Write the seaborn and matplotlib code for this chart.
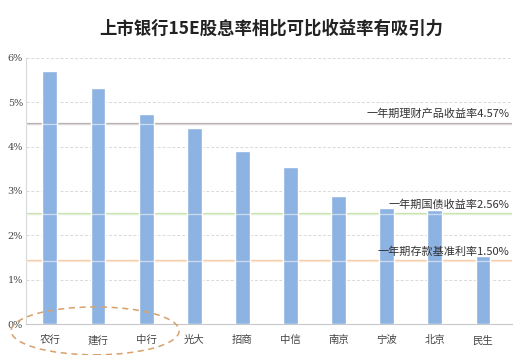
import numpy as np
import matplotlib.pyplot as plt
import pandas as pd
import seaborn as sns
from matplotlib.patches import Ellipse
from matplotlib.transforms import blended_transform_factory

# --- data ---
banks = ["农行", "建行", "中行", "光大", "招商", "中信", "南京", "宁波", "北京", "民生"]
div_yield = [5.71, 5.33, 4.74, 4.41, 3.89, 3.53, 2.89, 2.61, 2.57, 1.53]

ref_labels = ["一年期理财产品收益率4.57%", "一年期国债收益率2.56%", "一年期存款基准利率1.50%"]
ref_levels = [4.52, 2.48, 1.42]
ref_colors = ["#b5adad", "#c5e0a8", "#f6caa2"]

sns.set_style("white")
plt.rcParams['font.family'] = ['Noto Sans CJK SC', 'DejaVu Sans']

df = pd.DataFrame({"bank": banks, "yield": div_yield})

fig = plt.figure(figsize=(5.17, 3.55), dpi=100)
ax = fig.add_axes([0.050, 0.087, 0.940, 0.750])

# reference lines sit behind the bars, a faint light stripe crosses the bars
for lvl, col in zip(ref_levels, ref_colors):
    ax.axhline(lvl, color=col, lw=1.6, zorder=1)
    ax.axhline(lvl, color="white", lw=0.9, alpha=0.55, zorder=4)

sns.barplot(data=df, x="bank", y="yield", color="#8db3e2", saturation=1,
            width=0.31, ax=ax, zorder=3)

trans = blended_transform_factory(ax.transAxes, ax.transData)
for lbl, lvl in zip(ref_labels, ref_levels):
    ax.text(0.995, lvl + 0.1, lbl, transform=trans, ha="right", va="bottom",
            fontsize=8, color="#333333", zorder=5)

ax.set_xlim(-0.5, 9.6)
ax.set_ylim(0, 6)
ax.set_yticks(range(7))
ax.set_yticklabels([f"{i}%" for i in range(7)], fontsize=7, color="#444444",
                   family=['DejaVu Serif'])
ax.tick_params(axis="x", labelsize=7.5, colors="#444444", length=0, pad=8)
ax.tick_params(axis="y", length=0, pad=2)
ax.set_xlabel("")
ax.set_ylabel("")
ax.grid(axis="y", linestyle=(0, (3, 2)), color="#d9d9d9", lw=0.7, zorder=0)
ax.set_axisbelow(True)

for side in ["top", "right"]:
    ax.spines[side].set_visible(False)
ax.spines["left"].set_color("#d9d9d9")
ax.spines["bottom"].set_color("#c8c8c8")

fig.text(0.525, 0.92, "上市银行15E股息率相比可比收益率有吸引力", ha="center", va="center",
         fontsize=12.5, fontweight="bold", color="#222222")

# dashed ellipse around the first three banks
ell = Ellipse((0.184, 0.068), 0.325, 0.135, transform=fig.transFigure,
              fill=False, edgecolor="#d8a06a", lw=1.1, linestyle=(0, (4, 3)),
              clip_on=False)
fig.add_artist(ell)

fig.savefig("out.png", dpi=100)
